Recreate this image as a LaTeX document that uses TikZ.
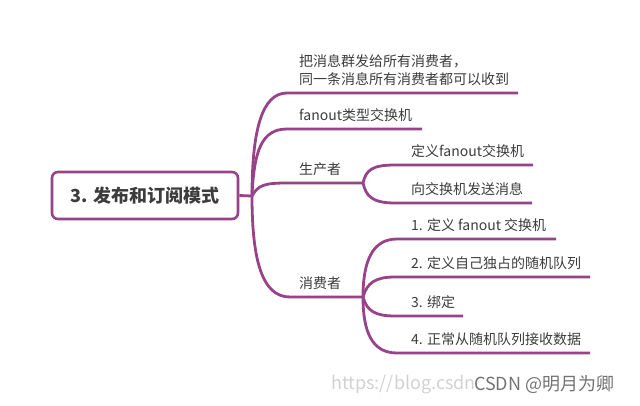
\documentclass[tikz,border=0pt]{standalone}
\usepackage{fontspec}
\setmainfont{Noto Sans CJK SC}
\usepackage{xcolor}
\definecolor{Col1}{RGB}{152,66,138}
\definecolor{Col2}{RGB}{60,60,60}
\tikzstyle{Root}=[draw=Col1,line width=2.6pt,rounded corners=6pt,fill=white,
minimum width=186pt,minimum height=47pt,text=Col2,
font=\fontsize{18}{22}\selectfont\bfseries]
\tikzstyle{Topic}=[anchor=west,inner sep=0pt,text=Col2,align=left,
font=\fontsize{14}{18}\selectfont]
\tikzstyle{Edge}=[draw=Col1,line width=2.8pt,line join=round]
\tikzstyle{Mark}=[inner sep=0pt,font=\fontsize{18}{20}\selectfont]

\begin{document}
\begin{tikzpicture}[x=1pt,y=-1pt]
            \useasboundingbox(0,0)rectangle(640,405);
            % hubs
            \coordinate(h)at(252,196);
            \coordinate(s1)at(363,183);
            \coordinate(s2)at(363,297);
            % underlines
            \coordinate(a1)at(287,93);   \coordinate(b1)at(518,93);
            \coordinate(a2)at(287,129);  \coordinate(b2)at(422,129);
            \coordinate(a3)at(287,183);
            \coordinate(a4)at(290,297);
            \coordinate(a5)at(395,165);  \coordinate(b5)at(533,165);
            \coordinate(a6)at(395,203);  \coordinate(b6)at(532,203);
            \coordinate(a7)at(397,239);  \coordinate(b7)at(556,239);
            \coordinate(a8)at(395,277);  \coordinate(b8)at(590,277);
            \coordinate(a9)at(395,316);  \coordinate(b9)at(463,316);
            \coordinate(a10)at(397,353); \coordinate(b10)at(590,353);
            \draw[Edge](h)..controls(252,130)and(262,93)..(a1)--(b1);
            \draw[Edge](h)..controls(254,150)and(262,129)..(a2)--(b2);
            \draw[Edge](h)..controls(258,185)and(265,183)..(a3)--(s1);
            \draw[Edge](h)..controls(252,260)and(262,297)..(a4)--(s2);
            \draw[Edge](s1)..controls(366,170)and(372,165)..(a5)--(b5);
            \draw[Edge](s1)..controls(366,196)and(372,203)..(a6)--(b6);
            \draw[Edge](s2)..controls(363,262)and(372,239)..(a7)--(b7);
            \draw[Edge](s2)..controls(367,283)and(375,277)..(a8)--(b8);
            \draw[Edge](s2)..controls(367,311)and(375,316)..(a9)--(b9);
            \draw[Edge](s2)..controls(363,332)and(372,353)..(a10)--(b10);
            % root
            \node[Root](0)at(145,195.5){3. 发布和订阅模式};
            \draw[Edge](0.east)--(h);
            % topics
            \node[Topic](1)at(299,70.5){把消息群发给所有消费者，\\同一条消息所有消费者都可以收到};
            \node[Topic](2)at(299,115){fanout类型交换机};
            \node[Topic](3)at(299,169){生产者};
            \node[Topic](4)at(299,283){消费者};
            \node[Topic](5)at(411,151){定义fanout交换机};
            \node[Topic](6)at(411,189){向交换机发送消息};
            \node[Topic](7)at(411,225){1. 定义 fanout 交换机};
            \node[Topic](8)at(411,263){2. 定义自己独占的随机队列};
            \node[Topic](9)at(411,302){3. 绑定};
            \node[Topic](10)at(411,339){4. 正常从随机队列接收数据};
            % watermark
            \node[Mark,anchor=east,text=black!18](w)at(476,385){https://blog.csdn};
            \node[Mark,anchor=west,text=black!55](c)at(474,385){CSDN @明月为卿};
        \end{tikzpicture}
\end{document}
